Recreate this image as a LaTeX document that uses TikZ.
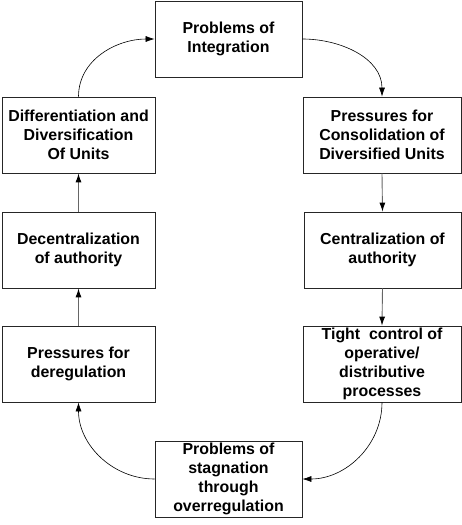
\documentclass[tikz,border=0pt]{standalone}
\usepackage{fontspec}
\setmainfont{Liberation Sans}
\usetikzlibrary{arrows.meta}
\begin{document}
\begin{tikzpicture}[x=1pt,y=-1pt,
  box/.style={draw=black!85, line width=0.8pt, fill=white, align=center, inner sep=2pt,
    font=\bfseries\fontsize{15.9}{19}\selectfont, minimum height=76pt},
  flow/.style={draw=black!60, line width=0.9pt, -{Latex[length=9pt,width=6pt,color=black]}},
  curvearrow/.style={draw=black, line width=0.6pt, -{Latex[length=9pt,width=6pt]}}]
\useasboundingbox (0,0) rectangle (462,525);
\node[box, minimum width=147pt] (top) at (228.5,39) {Problems of\\Integration};
\node[box, minimum width=153pt] (l1) at (78.5,135) {Differentiation and\\Diversification\\Of Units};
\node[box, minimum width=158pt] (r1) at (382,135) {Pressures for\\Consolidation of\\Diversified Units};
\node[box, minimum width=153pt] (l2) at (78.5,250) {Decentralization\\of authority};
\node[box, minimum width=157pt] (r2) at (382.5,250) {Centralization of\\authority};
\node[box, minimum width=153pt] (l3) at (78.5,364) {Pressures for\\deregulation};
\node[box, minimum width=158pt] (r3) at (382,364) {Tight\ \ control of\\operative/\\distributive\\processes};
\node[box, minimum width=147pt] (bot) at (228.5,479) {Problems of\\stagnation\\through\\overregulation};
\draw[curvearrow] (l1.north) to[out=90,in=180] (top.west);
\draw[curvearrow] (top.east) to[out=0,in=90] (r1.north);
\draw[flow] (r1.south) -- (r2.north);
\draw[flow] (r2.south) -- (r3.north);
\draw[curvearrow] (r3.south) to[out=-90,in=0] (bot.east);
\draw[curvearrow] (bot.west) to[out=180,in=-90] (l3.south);
\draw[flow] (l3.north) -- (l2.south);
\draw[flow] (l2.north) -- (l1.south);
\end{tikzpicture}
\end{document}
